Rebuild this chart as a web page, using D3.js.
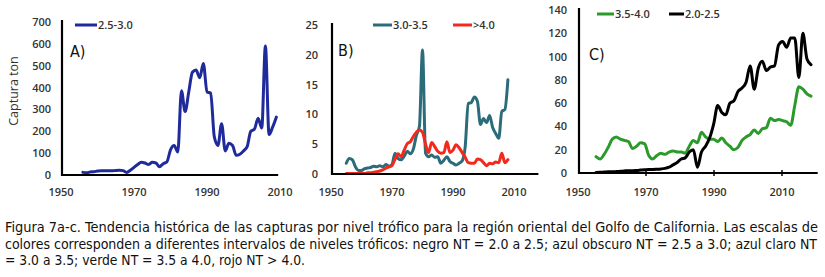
<!DOCTYPE html>
<html><head><meta charset="utf-8">
<script src="https://cdn.jsdelivr.net/npm/d3@7"></script>
<style>
html,body{margin:0;padding:0;background:#fff;}
svg{display:block;}
</style></head>
<body>
<svg id="chart" width="825" height="277"></svg>
<script>
// ---------- DATA ----------
const yearsA = [1956,1957,1958,1959,1960,1961,1962,1963,1964,1965,1966,1967,1968,1969,1970,1971,1972,1973,1974,1975,1976,1977,1978,1979,1980,1981,1982,1983,1984,1985,1986,1987,1988,1989,1990,1991,1992,1993,1994,1995,1996,1997,1998,1999,2000,2001,2002,2003,2004,2005,2006,2007,2008,2009];
const nt25_30 = [12,10,14,15,18,20,19,20,19,21,22,20,12,22,35,48,58,55,48,58,55,38,52,60,115,135,105,385,290,380,470,480,445,510,380,375,175,135,235,110,145,135,90,95,110,130,200,210,260,215,590,185,220,265];

const yearsB = [1955,1956,1957,1958,1959,1960,1961,1962,1963,1964,1965,1966,1967,1968,1969,1970,1971,1972,1973,1974,1975,1976,1977,1978,1979,1980,1981,1982,1983,1984,1985,1986,1987,1988,1989,1990,1991,1992,1993,1994,1995,1996,1997,1998,1999,2000,2001,2002,2003,2004,2005,2006,2007,2008];
const nt30_35 = [1.8,2.6,2.4,1.2,0.6,0.6,0.9,1.0,1.1,1.3,1.2,1.4,1.2,1.6,1.3,1.6,3.5,2.6,2.4,3.0,3.8,3.4,4.2,6.5,8.0,20.8,3.5,2.9,3.2,2.8,2.9,1.8,2.3,2.9,2.1,1.8,1.5,1.8,2.2,4.6,11.8,12.0,12.9,12.2,8.3,9.3,8.6,9.8,7.8,6.8,6.0,10.5,10.8,15.8];
const nt40 = [0.1,0.1,0.1,0.1,0.1,0.1,0.1,0.2,0.2,0.3,0.4,0.5,0.7,1.0,1.2,1.4,2.5,3.4,2.9,4.0,5.1,5.4,6.3,7.0,7.4,7.0,5.0,3.6,5.3,4.6,3.8,3.5,3.6,5.4,3.6,4.0,4.9,4.4,3.6,2.8,1.9,1.8,1.8,2.5,2.4,1.9,1.4,1.8,1.7,2.0,1.9,3.5,1.9,2.4];

const yearsC = [1956,1957,1958,1959,1960,1961,1962,1963,1964,1965,1966,1967,1968,1969,1970,1971,1972,1973,1974,1975,1976,1977,1978,1979,1980,1981,1982,1983,1984,1985,1986,1987,1988,1989,1990,1991,1992,1993,1994,1995,1996,1997,1998,1999,2000,2001,2002,2003,2004,2005,2006,2007,2008,2009];
const nt35_40 = [14,12,16,22,29,31,29,28,27,21,23,26,25,15,12,15,17,16,18,19,18,18,17,23,28,26,35,31,29,29,27,30,26,23,20,22,28,31,33,37,34,38,39,47,45,46,45,44,41,58,74,72,68,66];
const nt20_25 = [0.5,0.6,0.8,1,1,1.2,1.5,1.8,2,2,2.2,2.5,2.8,3,3,3.2,3.5,4,5,7,9,12,13,18,20,5,18,23,30,42,58,52,50,60,62,70,73,78,92,72,90,96,88,91,92,110,113,108,116,116,82,120,98,93];

const xTicks = [1950,1970,1990,2010];
const yTicksA = [0,100,200,300,400,500,600,700];
const yTicksB = [0,5,10,15,20,25];
const yTicksC = [0,20,40,60,80,100,120,140];

const captionLines = [
  "Figura 7a-c. Tendencia histórica de las capturas por nivel trófico para la región oriental del Golfo de California. Las escalas de",
  "colores corresponden a diferentes intervalos de niveles tróficos: negro NT = 2.0 a 2.5; azul obscuro NT = 2.5 a 3.0; azul claro NT",
  "= 3.0 a 3.5; verde NT = 3.5 a 4.0, rojo NT > 4.0."
];

// ---------- LAYOUT ----------
// xr: pixel range of the axis labels 1950..2010; dr: optional pixel range of the data span (first..last year)
const panels = [
  { label:"A)", labelPos:[70,57], xr:[61,280], axisEnd:2009.5, yTop:22, yBot:175, yMax:700, yTicks:yTicksA, tickGap:11, xTickMarks:false,
    series:[{name:"2.5-3.0", years:yearsA, values:nt25_30, color:"#1f2a9c"}],
    legend:[{x1:75,x2:97}] , ylabel:"Captura ton"},
  { label:"B)", labelPos:[338,56], xr:[331,514], axisEnd:2018, yTop:25, yBot:174, yMax:25, yTicks:yTicksB, tickGap:14, xTickMarks:false,
    series:[{name:"3.0-3.5", years:yearsB, values:nt30_35, color:"#2c6b7a"},
            {name:">4.0", years:yearsB, values:nt40, color:"#f2291c"}],
    legend:[{x1:373,x2:392},{x1:453,x2:472}] },
  { label:"C)", labelPos:[589,60], xr:[578,782], axisEnd:2020.5, dr:[596,811], yTop:10, yBot:173, yMax:140, yTicks:yTicksC, tickGap:12, xTickMarks:true,
    series:[{name:"3.5-4.0", years:yearsC, values:nt35_40, color:"#2b9a2b"},
            {name:"2.0-2.5", years:yearsC, values:nt20_25, color:"#000000"}],
    legend:[{x1:597,x2:614},{x1:669,x2:684}], legendY:14 }
];

const svg = d3.select("#chart");
const tickFont = "'Open Sans', 'DejaVu Sans', sans-serif";

panels.forEach(p => {
  const x = d3.scaleLinear().domain([1950,2010]).range(p.xr);
  const yrs = p.series[0].years;
  const xd = p.dr ? d3.scaleLinear().domain([yrs[0], yrs[yrs.length-1]]).range(p.dr) : x;
  const y = d3.scaleLinear().domain([0,p.yMax]).range([p.yBot,p.yTop]);
  const g = svg.append("g");
  const x0 = x(1950) + 1;

  p.series.forEach(s => {
    const line = d3.line().x((d,i)=>xd(s.years[i])).y(d=>y(d)).curve(d3.curveMonotoneX);
    g.append("path").datum(s.values).attr("d",line)
      .attr("fill","none").attr("stroke",s.color).attr("stroke-width",3)
      .attr("stroke-linejoin","round").attr("stroke-linecap","round");
  });

  g.append("line").attr("x1",x0).attr("x2",x0).attr("y1",y(p.yMax)-2).attr("y2",y(0)+1)
    .attr("stroke","#000").attr("stroke-width",2.2);
  g.append("line").attr("x1",x0-1).attr("x2",x(p.axisEnd)).attr("y1",y(0)).attr("y2",y(0))
    .attr("stroke","#000").attr("stroke-width",2.2);
  if (p.xTickMarks) {
    xTicks.slice(1).forEach(t=>{
      g.append("line").attr("x1",x(t)).attr("x2",x(t)).attr("y1",y(0)-3).attr("y2",y(0)+3)
       .attr("stroke","#000").attr("stroke-width",1.5);
    });
  }

  p.yTicks.forEach(t=>{
    g.append("text").attr("x",x0-p.tickGap).attr("y",y(t)).attr("dy","0.36em")
      .attr("text-anchor","end").attr("font-family",tickFont).attr("font-size",11)
      .attr("font-weight",600).attr("fill","#333").text(t);
  });
  xTicks.forEach(t=>{
    g.append("text").attr("x",x(t)).attr("y",196)
      .attr("text-anchor","middle").attr("font-family",tickFont).attr("font-size",11)
      .attr("font-weight",600).attr("fill","#333").text(t);
  });

  g.append("text").attr("x",p.labelPos[0]).attr("y",p.labelPos[1])
    .attr("font-family","'Liberation Sans Narrow','DejaVu Sans Condensed',sans-serif")
    .attr("font-size",16).attr("fill","#111").text(p.label);

  const ly = p.legendY || 25;
  p.series.forEach((s,i)=>{
    const L = p.legend[i];
    g.append("line").attr("x1",L.x1).attr("x2",L.x2).attr("y1",ly).attr("y2",ly)
      .attr("stroke",s.color).attr("stroke-width",3);
    g.append("text").attr("x",L.x2+1).attr("y",ly).attr("dy","0.36em")
      .attr("font-family",tickFont).attr("font-size",11).attr("font-weight",600)
      .attr("fill","#333").text(s.name);
  });

  if (p.ylabel) {
    g.append("text").attr("transform","translate(18,91) rotate(-90)")
      .attr("text-anchor","middle").attr("font-family",tickFont).attr("font-size",12.5)
      .attr("font-weight",500).attr("fill","#333").text(p.ylabel);
  }
});

const capLens = [813,812,300];
captionLines.forEach((t,i)=>{
  svg.append("text").attr("x",5).attr("y",232 + i*16.5)
    .attr("font-family","'Liberation Sans Narrow','DejaVu Sans Condensed','Roboto',sans-serif")
    .attr("font-size",14).attr("fill","#111")
    .attr("textLength",capLens[i]).attr("lengthAdjust","spacingAndGlyphs")
    .text(t);
});
</script>
</body></html>
